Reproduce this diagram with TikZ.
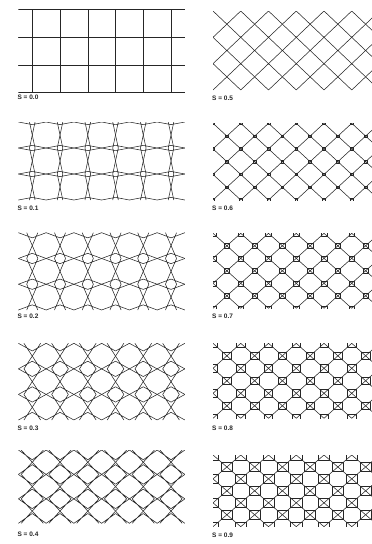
\documentclass[tikz,border=0pt]{standalone}
\usepackage{fontspec}
\newfontfamily\labfont{Liberation Sans}
\tikzset{
    pat/.style={line width=0.55pt, black!85, line join=round},
    lbl/.style={font=\labfont\bfseries\fontsize{6.5}{8}\selectfont, text=black!85, inner sep=0pt, anchor=west},
}
\begin{document}
\begin{tikzpicture}[x=1pt, y=-1pt]
    \useasboundingbox (0,0) rectangle (372,544);
    % 1. Ten panels: value, name, left edge, top, height, label line
    \foreach \sv/\nm/\px/\py/\ph/\ly in {
        0.0/a/18.4/9.3/83.4/97, 0.1/b/18.4/122/78/208,
        0.2/c/18.4/232.7/77.3/316.7, 0.3/d/18.4/343.3/76.7/428.3,
        0.4/e/18.4/450/73.3/534.3, 0.5/f/213/11/79/98.3,
        0.6/g/213/123.3/76.7/208, 0.7/h/213/233.3/75/316.7,
        0.8/i/213/343.3/75/428.3, 0.9/j/213/455/71.7/535}{
        \pgfmathsetmacro{\uu}{min(\sv,0.5)}
        \pgfmathsetmacro{\sq}{\sv>0.5 ? (\sv-0.5)/2 : 0}
        \pgfmathsetmacro{\hh}{\ph/3}
        \pgfmathsetmacro{\qx}{min(\px+166.5,372)}
        \begin{scope}
            \clip (\px,\py) rectangle (\qx,\py+\ph);
            \begin{scope}[shift={(\px,\py)}, xscale=27.75, yscale=\hh]
                % 2. From each edge midpoint two chords run to the next edges
                \foreach \k in {0,...,6}
                    \foreach \j in {0,1,2}
                        \draw[pat, shift={(\k,\j+0.5)}]
                            (0.5,-0.5+\uu) -- (0,-0.5) -- (-0.5,-0.5+\uu)
                            (0.5,0.5-\uu) -- (0,0.5) -- (-0.5,0.5-\uu)
                            (0.5-\uu,0.5) -- (0.5,0) -- (0.5-\uu,-0.5)
                            (-0.5+\uu,0.5) -- (-0.5,0) -- (-0.5+\uu,-0.5);
                % 3. Boxes round the crossings (S > 0.5)
                \ifdim\sq pt>0pt
                    \foreach \k in {0,...,6}
                        \foreach \j in {0,...,3}
                            \draw[pat] (\k-\sq,\j-\sq) rectangle (\k+\sq,\j+\sq);
                    \foreach \k in {-1,...,6}
                        \foreach \j in {0,1,2}
                            \draw[pat] (\k+0.5-\sq,\j+0.5-\sq) rectangle (\k+0.5+\sq,\j+0.5+\sq);
                \fi
            \end{scope}
        \end{scope}
        % 4. Caption under the panel
        \node[lbl] (lab\nm) at (\px-1,\ly) {S = \sv};
    }
\end{tikzpicture}
\end{document}
